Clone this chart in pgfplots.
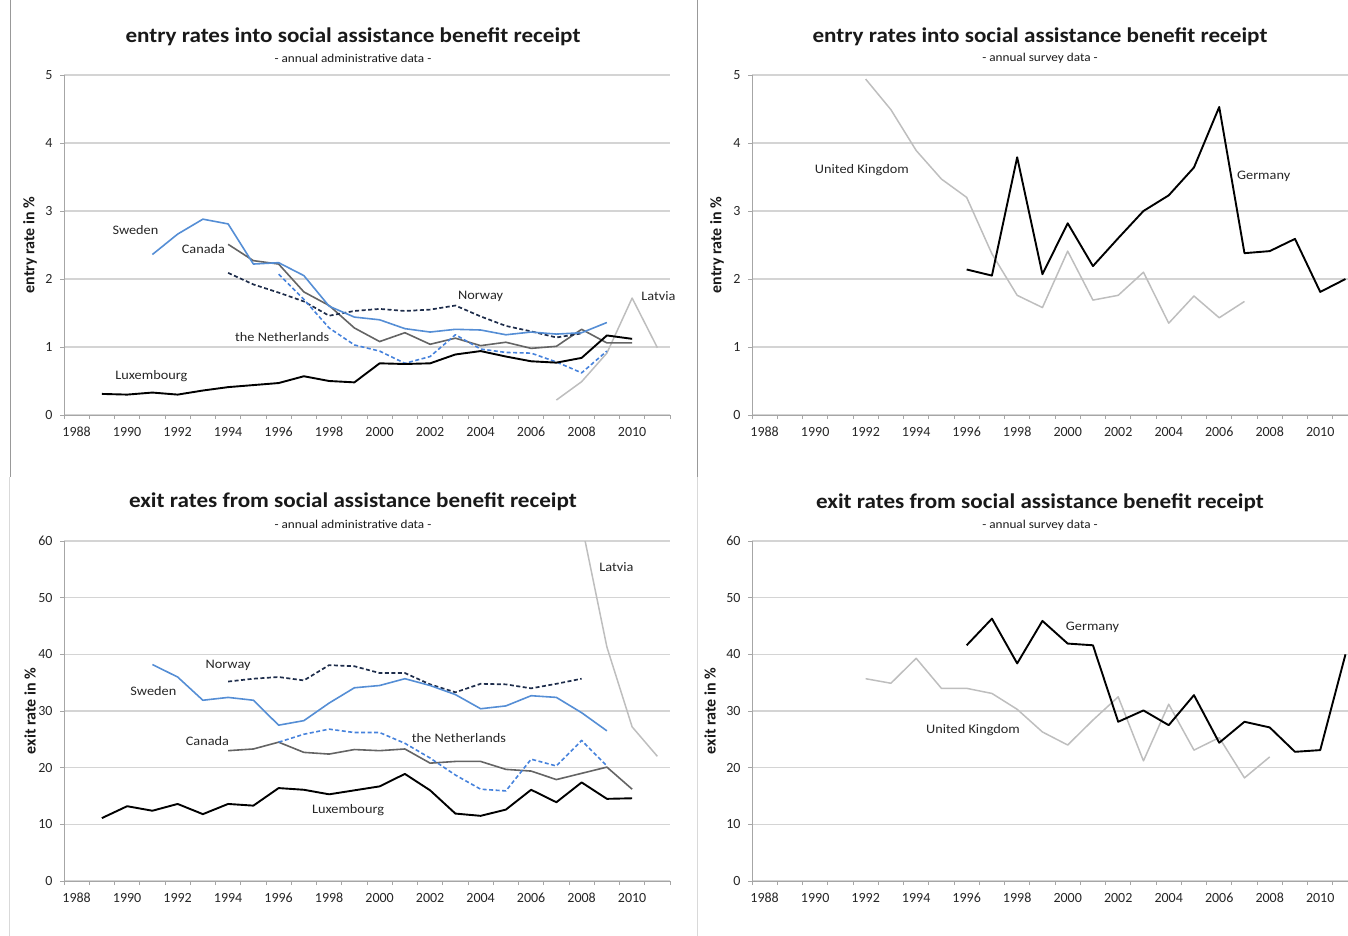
\documentclass[border=0pt]{standalone}
\usepackage{pgfplots}
\pgfplotsset{compat=1.18}
\usepackage{fontspec}
\setmainfont{Carlito}

\definecolor{swe}{RGB}{85,142,213}
\definecolor{ned}{RGB}{70,130,220}
\definecolor{nor}{RGB}{30,45,75}
\definecolor{can}{RGB}{100,100,100}
\definecolor{lat}{RGB}{190,190,190}
\definecolor{lab}{RGB}{38,38,38}

\newcommand\sx[1]{\scalebox{1.1}[1]{#1}}

\pgfplotsset{
  panel/.style={
    scale only axis, anchor=south west, height=340pt,
    xmin=1987.5,
    axis x line*=bottom, axis y line*=left,
    axis line style={draw=black!35, line width=0.8pt, -},
    xtick={1988,1990,...,2010},
    minor xtick={1987.5,1988.5,...,2011.5},
    major tick length=0pt, minor tick length=4pt,
    tick align=outside, tick pos=left,
    every minor tick/.style={draw=black!35, line width=0.8pt},
    ymajorgrids, major grid style={draw=black!17, line width=1.6pt},
    /pgf/number format/assume math mode=true,
    tick label style={font=\fontsize{14}{14}\selectfont, text=lab},
    x tick label style={/pgf/number format/1000 sep={}, anchor=north,
      text height=10pt, text depth=2pt, yshift=-8pt},
    y tick label style={xshift=-8pt},
    clip mode=individual,
    every axis plot/.append style={line join=round},
  },
}
\tikzset{cl/.style={font=\fontsize{13}{14}\selectfont, text=lab}}

\begin{document}
\begin{tikzpicture}
\useasboundingbox (0,0) rectangle (1348pt,-936pt);

\draw[black!40, line width=0.8pt] (10pt,0) -- (10pt,-477pt);
\draw[black!40, line width=0.8pt] (697pt,0) -- (697pt,-477pt);
\draw[black!15, line width=0.8pt] (9pt,-477pt) -- (9pt,-936pt);
\draw[black!15, line width=0.8pt] (697pt,-477pt) -- (697pt,-936pt);

% top left: entry, administrative data
\begin{axis}[panel, at={(64pt,-415pt)}, width=606pt, xmax=2011.5,
  ymin=0, ymax=5, ytick={0,...,5}, minor ytick={0,...,5}]
\addplot[lat, line width=1.5pt] coordinates {
 (2007,0.22) (2008,0.49) (2009,0.91) (2010,1.72) (2011,0.99)};
\addplot[can, line width=1.6pt] coordinates {
 (1994,2.51) (1995,2.27) (1996,2.22) (1997,1.81) (1998,1.61) (1999,1.28)
 (2000,1.08) (2001,1.21) (2002,1.04) (2003,1.13) (2004,1.02) (2005,1.07)
 (2006,0.98) (2007,1.01) (2008,1.26) (2009,1.06) (2010,1.06)};
\addplot[nor, line width=1.7pt, dash pattern=on 4pt off 2.5pt] coordinates {
 (1994,2.09) (1995,1.92) (1996,1.80) (1997,1.67) (1998,1.46) (1999,1.53)
 (2000,1.56) (2001,1.53) (2002,1.55) (2003,1.61) (2004,1.45) (2005,1.31)
 (2006,1.23) (2007,1.14) (2008,1.20)};
\addplot[ned, line width=1.6pt, dash pattern=on 4pt off 2.5pt] coordinates {
 (1996,2.07) (1997,1.70) (1998,1.28) (1999,1.03) (2000,0.94) (2001,0.76)
 (2002,0.86) (2003,1.18) (2004,0.97) (2005,0.92) (2006,0.91) (2007,0.78)
 (2008,0.62) (2009,0.94)};
\addplot[swe, line width=1.6pt] coordinates {
 (1991,2.36) (1992,2.66) (1993,2.88) (1994,2.81) (1995,2.22) (1996,2.24)
 (1997,2.05) (1998,1.60) (1999,1.44) (2000,1.40) (2001,1.27) (2002,1.22)
 (2003,1.26) (2004,1.25) (2005,1.18) (2006,1.22) (2007,1.19) (2008,1.21)
 (2009,1.36)};
\addplot[black, line width=1.9pt] coordinates {
 (1989,0.31) (1990,0.30) (1991,0.33) (1992,0.30) (1993,0.36) (1994,0.41)
 (1995,0.44) (1996,0.47) (1997,0.57) (1998,0.50) (1999,0.48) (2000,0.76)
 (2001,0.75) (2002,0.76) (2003,0.89) (2004,0.94) (2005,0.86) (2006,0.79)
 (2007,0.77) (2008,0.84) (2009,1.17) (2010,1.12)};
\node[cl] at (axis cs:1990.33,2.72) {\sx{Sweden}};
\node[cl] at (axis cs:1993.02,2.44) {\sx{Canada}};
\node[cl] at (axis cs:2004.0,1.74) {\sx{Norway}};
\node[cl] at (axis cs:2011.04,1.75) {\sx{Latvia}};
\node[cl] at (axis cs:1996.14,1.15) {\sx{the Netherlands}};
\node[cl] at (axis cs:1990.96,0.57) {\sx{Luxembourg}};
\end{axis}

% top right: entry, survey data
\begin{axis}[panel, at={(752pt,-415pt)}, width=596pt, xmax=2011.1,
  ymin=0, ymax=5, ytick={0,...,5}, minor ytick={0,...,5}]
\addplot[lat, line width=1.5pt] coordinates {
 (1992,4.94) (1993,4.49) (1994,3.89) (1995,3.47) (1996,3.20) (1997,2.37)
 (1998,1.76) (1999,1.58) (2000,2.41) (2001,1.69) (2002,1.76) (2003,2.10)
 (2004,1.35) (2005,1.75) (2006,1.43) (2007,1.67)};
\addplot[black, line width=1.9pt] coordinates {
 (1996,2.14) (1997,2.05) (1998,3.79) (1999,2.07) (2000,2.82) (2001,2.19)
 (2002,2.60) (2003,3.00) (2004,3.23) (2005,3.64) (2006,4.53) (2007,2.38)
 (2008,2.41) (2009,2.59) (2010,1.81) (2011,2.00)};
\node[cl] at (axis cs:1991.85,3.60) {\sx{United Kingdom}};
\node[cl] at (axis cs:2007.76,3.51) {\sx{Germany}};
\end{axis}

% bottom left: exit, administrative data
\begin{axis}[panel, at={(64pt,-881pt)}, width=606pt, xmax=2011.5,
  ymin=0, ymax=60, ytick={0,10,...,60}, minor ytick={0,10,...,60}]
\addplot[lat, line width=1.5pt] coordinates {
 (2008,63) (2009,41.3) (2010,27.2) (2011,22.0)};
\addplot[can, line width=1.6pt] coordinates {
 (1994,23.0) (1995,23.3) (1996,24.5) (1997,22.7) (1998,22.4) (1999,23.2)
 (2000,23.0) (2001,23.3) (2002,20.8) (2003,21.1) (2004,21.1) (2005,19.7)
 (2006,19.4) (2007,17.9) (2008,19.0) (2009,20.1) (2010,16.2)};
\addplot[nor, line width=1.7pt, dash pattern=on 4pt off 2.5pt] coordinates {
 (1994,35.2) (1995,35.7) (1996,36.0) (1997,35.4) (1998,38.1) (1999,37.9)
 (2000,36.7) (2001,36.7) (2002,34.7) (2003,33.3) (2004,34.8) (2005,34.7)
 (2006,34.0) (2007,34.8) (2008,35.7)};
\addplot[ned, line width=1.6pt, dash pattern=on 4pt off 2.5pt] coordinates {
 (1996,24.5) (1997,25.9) (1998,26.8) (1999,26.2) (2000,26.2) (2001,24.3)
 (2002,21.7) (2003,18.7) (2004,16.2) (2005,15.9) (2006,21.5) (2007,20.3)
 (2008,24.8) (2009,20.3)};
\addplot[swe, line width=1.6pt] coordinates {
 (1991,38.2) (1992,36.0) (1993,31.9) (1994,32.4) (1995,31.9) (1996,27.5)
 (1997,28.3) (1998,31.4) (1999,34.1) (2000,34.5) (2001,35.7) (2002,34.5)
 (2003,32.9) (2004,30.4) (2005,30.9) (2006,32.7) (2007,32.4) (2008,29.7)
 (2009,26.5)};
\addplot[black, line width=1.9pt] coordinates {
 (1989,11.1) (1990,13.2) (1991,12.4) (1992,13.6) (1993,11.8) (1994,13.6)
 (1995,13.3) (1996,16.4) (1997,16.1) (1998,15.3) (1999,16.0) (2000,16.7)
 (2001,18.9) (2002,16.0) (2003,11.9) (2004,11.5) (2005,12.6) (2006,16.1)
 (2007,13.9) (2008,17.4) (2009,14.5) (2010,14.6)};
\node[cl] at (axis cs:1994.0,38.1) {\sx{Norway}};
\node[cl] at (axis cs:1991.04,33.5) {\sx{Sweden}};
\node[cl] at (axis cs:2009.38,55.4) {\sx{Latvia}};
\node[cl] at (axis cs:1993.18,24.7) {\sx{Canada}};
\node[cl] at (axis cs:2003.14,25.2) {\sx{the Netherlands}};
\node[cl] at (axis cs:1998.75,12.5) {\sx{Luxembourg}};
\end{axis}

% bottom right: exit, survey data
\begin{axis}[panel, at={(752pt,-881pt)}, width=596pt, xmax=2011.1,
  ymin=0, ymax=60, ytick={0,10,...,60}, minor ytick={0,10,...,60}]
\addplot[lat, line width=1.5pt] coordinates {
 (1992,35.7) (1993,34.9) (1994,39.3) (1995,34.0) (1996,34.0) (1997,33.1)
 (1998,30.3) (1999,26.3) (2000,24.0) (2001,28.4) (2002,32.5) (2003,21.2)
 (2004,31.2) (2005,23.1) (2006,25.3) (2007,18.2) (2008,21.9)};
\addplot[black, line width=1.9pt] coordinates {
 (1996,41.6) (1997,46.3) (1998,38.4) (1999,45.9) (2000,41.9) (2001,41.6)
 (2002,28.1) (2003,30.1) (2004,27.5) (2005,32.8) (2006,24.4) (2007,28.1)
 (2008,27.1) (2009,22.8) (2010,23.1) (2011,40.0)};
\node[cl] at (axis cs:2000.98,44.8) {\sx{Germany}};
\node[cl] at (axis cs:1996.25,26.6) {\sx{United Kingdom}};
\end{axis}

% titles
\begin{scope}[every node/.style={text=black!90}]
\node[font=\bfseries\fontsize{21}{22}\selectfont] at (353pt,-37pt) {\sx{entry rates into social assistance benefit receipt}};
\node[font=\fontsize{12}{12}\selectfont] at (353pt,-58pt) {\sx{- annual administrative data -}};
\node[font=\bfseries\fontsize{21}{22}\selectfont] at (1040pt,-37pt) {\sx{entry rates into social assistance benefit receipt}};
\node[font=\fontsize{12}{12}\selectfont] at (1040pt,-58pt) {\sx{- annual survey data -}};
\node[font=\bfseries\fontsize{21}{22}\selectfont] at (353pt,-502pt) {\sx{exit rates from social assistance benefit receipt}};
\node[font=\fontsize{12}{12}\selectfont] at (353pt,-524pt) {\sx{- annual administrative data -}};
\node[font=\bfseries\fontsize{21}{22}\selectfont] at (1040pt,-503pt) {\sx{exit rates from social assistance benefit receipt}};
\node[font=\fontsize{12}{12}\selectfont] at (1040pt,-525pt) {\sx{- annual survey data -}};
\node[rotate=90, font=\bfseries\fontsize{16}{16}\selectfont] at (30pt,-245pt) {entry rate in \%};
\node[rotate=90, font=\bfseries\fontsize{16}{16}\selectfont] at (717pt,-245pt) {entry rate in \%};
\node[rotate=90, font=\bfseries\fontsize{16}{16}\selectfont] at (30pt,-711pt) {exit rate in \%};
\node[rotate=90, font=\bfseries\fontsize{16}{16}\selectfont] at (710pt,-711pt) {exit rate in \%};
\end{scope}
\end{tikzpicture}
\end{document}
